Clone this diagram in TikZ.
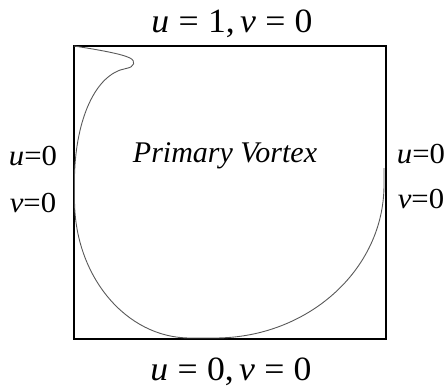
\documentclass[tikz,border=0pt]{standalone}
\usepackage{fontspec}
\setmainfont{Liberation Serif}
\begin{document}
\begin{tikzpicture}[x=1pt,y=-1pt,
  lbl/.style={inner sep=0pt,anchor=base},
  bigl/.style={lbl,font=\fontsize{34}{36}\selectfont,xscale=1.05},
  sidel/.style={lbl,font=\fontsize{29}{31}\selectfont,xscale=1.06},
  wall/.style={draw=black,line width=1.5pt},
  vortex/.style={draw=black!65,line width=0.9pt}]
\useasboundingbox (0,0) rectangle (448,389);
\node[wall,minimum width=312pt,minimum height=293pt,inner sep=0pt,anchor=north west] (cav) at (73,45) {};
\coordinate (c0) at (74,46);
\coordinate (hk) at (130,58);
\coordinate (hb) at (126,68.5);
\coordinate (lw) at (74.5,175);
\coordinate (lw2) at (74.5,200);
\coordinate (b1) at (190,338);
\coordinate (b2) at (215,338);
\coordinate (rw) at (384,185);
\coordinate (re) at (384,168);
\draw[vortex] (c0) .. controls (100,50) and (122,54) .. (hk)
  .. controls (136,61) and (135,67) .. (hb)
  .. controls (95,74) and (76,120) .. (lw) -- (lw2)
  .. controls (74.5,276) and (126,338) .. (b1) -- (b2)
  .. controls (308,338) and (384,269.5) .. (rw) -- (re);
\node[bigl] (top) at (232,32) {\itshape u\hspace{0.26em}\upshape=\hspace{0.26em}1,\hspace{0.15em}\itshape v\hspace{0.26em}\upshape=\hspace{0.26em}0};
\node[bigl] (bot) at (231,380) {\itshape u\hspace{0.26em}\upshape=\hspace{0.26em}0,\hspace{0.15em}\itshape v\hspace{0.26em}\upshape=\hspace{0.26em}0};
\node[sidel] (lu) at (33,165) {\itshape u\upshape=0};
\node[sidel] (lv) at (33,212) {\itshape v\upshape=0};
\node[sidel] (ru) at (421,163) {\itshape u\upshape=0};
\node[sidel] (rv) at (421,208) {\itshape v\upshape=0};
\node[lbl,font=\fontsize{30}{32}\selectfont\itshape] (pv) at (225,162) {Primary Vortex};
\end{tikzpicture}
\end{document}
